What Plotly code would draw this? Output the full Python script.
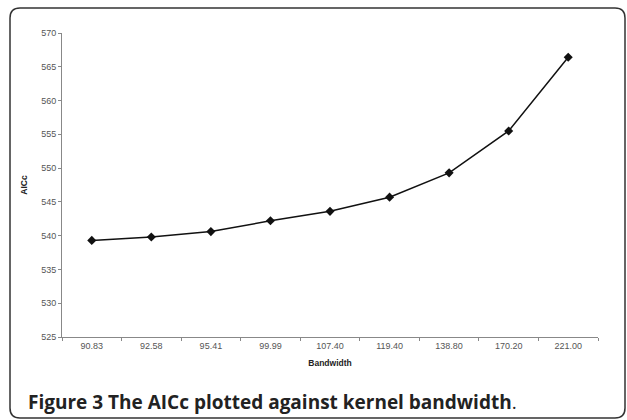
import plotly.graph_objects as go

bandwidth = ["90.83", "92.58", "95.41", "99.99", "107.40", "119.40", "138.80", "170.20", "221.00"]
aicc = [539.3, 539.8, 540.6, 542.2, 543.6, 545.7, 549.3, 555.5, 566.4]
y_ticks = [525, 530, 535, 540, 545, 550, 555, 560, 565, 570]

W, H = 627, 420
L, R, T, B = 62, 598, 33, 337  # plot area in pixels

def px(x):
    return (x - L) / (R - L)

def py(y):
    return (B - y) / (B - T)

fig = go.Figure()
fig.add_trace(go.Scatter(
    x=bandwidth, y=aicc, mode="lines+markers",
    line=dict(color="#111111", width=1.5),
    marker=dict(symbol="diamond", size=7, color="#111111"),
    showlegend=False, hoverinfo="skip",
))

# rounded border frame
x0, y0, x1, y1, r = 10, 8, 625, 418, 10
path = (f"M {px(x0+r)},{py(y0)} L {px(x1-r)},{py(y0)} "
        f"Q {px(x1)},{py(y0)} {px(x1)},{py(y0+r)} "
        f"L {px(x1)},{py(y1-r)} Q {px(x1)},{py(y1)} {px(x1-r)},{py(y1)} "
        f"L {px(x0+r)},{py(y1)} Q {px(x0)},{py(y1)} {px(x0)},{py(y1-r)} "
        f"L {px(x0)},{py(y0+r)} Q {px(x0)},{py(y0)} {px(x0+r)},{py(y0)} Z")
fig.add_shape(type="path", path=path, xref="paper", yref="paper",
              line=dict(color="#333333", width=1.5), layer="above")

fig.add_annotation(
    x=px(26), y=py(402), xref="paper", yref="paper", xanchor="left", yanchor="middle",
    text="<b>Figure 3 The AICc plotted against kernel bandwidth</b>.",
    showarrow=False, font=dict(family="Open Sans", size=19, color="#222222"),
)

axis_font = dict(family="Liberation Sans, Arial", size=9, color="#555555")
title_font = dict(family="Liberation Sans, Arial", size=8.5, color="#222222")
fig.update_layout(
    width=W, height=H,
    margin=dict(l=L, r=W - R, t=T, b=H - B),
    paper_bgcolor="white", plot_bgcolor="white",
    xaxis=dict(
        type="category", tickson="boundaries", ticks="outside", ticklen=3,
        tickcolor="#888888", showline=True, linecolor="#888888", linewidth=1,
        showgrid=False, tickfont=axis_font, range=[-0.5, len(bandwidth) - 0.5],
        title=dict(text="<b>Bandwidth</b>", font=title_font, standoff=10),
    ),
    yaxis=dict(
        range=[525, 570], tickvals=y_ticks, ticks="outside", ticklen=3,
        tickcolor="#888888", showline=True, linecolor="#888888", linewidth=1,
        showgrid=False, zeroline=False, tickfont=axis_font,
        title=dict(text="<b>AICc</b>", font=title_font, standoff=12),
    ),
)

fig.write_html("out.html", config={"displayModeBar": False},
               post_script="document.body.style.margin='0';document.body.style.overflow='hidden';")
